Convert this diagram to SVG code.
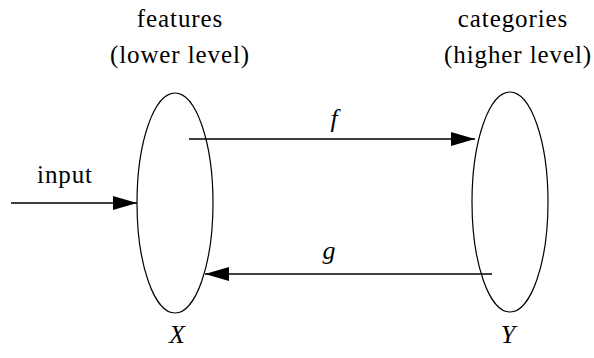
<svg xmlns="http://www.w3.org/2000/svg" width="594" height="358" viewBox="0 0 594 358">
<style>
text{fill:#000;text-anchor:middle}
.n{fill:none;stroke:#000;stroke-width:1.2}
.c{stroke:#000;stroke-width:1.3;fill:none}
</style>
<defs>
<marker id="ah" markerUnits="userSpaceOnUse" markerWidth="24" markerHeight="14" refX="24" refY="7" orient="auto">
<path d="M0,0 L24,7 L0,14 Z" fill="#000"/>
</marker>
</defs>
<rect width="594" height="358" fill="#fff"/>
<g font-family="Liberation Serif" font-size="25">
<g id="X">
<ellipse class="n" cx="175" cy="203" rx="38" ry="110"/>
<text x="180" y="27" letter-spacing="0.9">features</text>
<text x="180" y="63" letter-spacing="0.9">(lower level)</text>
<text x="177" y="343" font-style="italic" font-size="26">X</text>
</g>
<g id="Y">
<ellipse class="n" cx="510" cy="202" rx="38" ry="110"/>
<text x="513" y="27" letter-spacing="0.9">categories</text>
<text x="518" y="63" letter-spacing="0.9">(higher level)</text>
<text x="508" y="343" font-style="italic" font-size="26">Y</text>
</g>
<g id="connectors">
<line class="c" x1="11" y1="203" x2="137" y2="203" marker-end="url(#ah)"/>
<text x="65" y="183" letter-spacing="0.9">input</text>
<line class="c" x1="189" y1="139" x2="475" y2="139" marker-end="url(#ah)"/>
<text x="334" y="127" font-style="italic" font-size="26">f</text>
<line class="c" x1="492" y1="274" x2="205" y2="274" marker-end="url(#ah)"/>
<text x="329" y="259" font-style="italic" font-size="26">g</text>
</g>
</g>
</svg>
